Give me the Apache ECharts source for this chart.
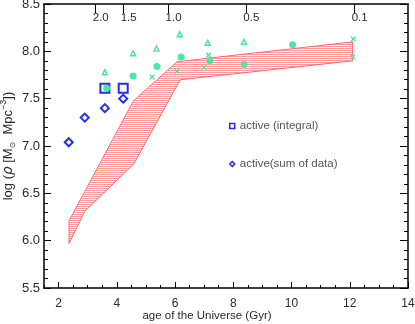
<!DOCTYPE html>
<html>
<head>
<meta charset="utf-8">
<script src="https://cdn.jsdelivr.net/npm/echarts@6/dist/echarts.min.js"></script>
<style>
html, body { margin: 0; padding: 0; background: #fff; }
#chart { width: 415px; height: 324px; }
</style>
</head>
<body>
<div id="chart"></div>
<script>
// age of the Universe (Gyr) vs log density
var integralPts = [[3.59, 7.61], [4.22, 7.61]];
var sumPts = [[2.35, 7.04], [2.90, 7.30], [3.59, 7.40], [4.22, 7.50]];

var greenCircles = [[3.65, 7.61], [4.56, 7.74], [5.38, 7.84], [6.21, 7.94], [7.19, 7.90], [8.37, 7.86], [10.04, 8.07]];
var greenTriangles = [[3.59, 7.78], [4.56, 7.98], [5.36, 8.03], [6.16, 8.18], [7.12, 8.09], [8.37, 8.10]];
var greenCrosses = [[5.21, 7.73], [6.07, 7.79], [7.00, 7.83], [7.15, 7.96], [12.12, 8.13], [12.10, 7.94]];

// hatched band: upper edge left->right, lower edge left->right
var bandUpper = [[2.36, 6.21], [4.58, 7.48], [6.07, 7.89], [12.10, 8.10]];
var bandLower = [[2.36, 5.97], [2.90, 6.31], [4.58, 6.81], [6.18, 7.70], [12.10, 7.90]];

// redshift on the top axis
var topTickAges = [3.26, 4.22, 5.76, 8.43, 12.15];
var topTickLabels = ['2.0', '1.5', '1.0', '0.5', '0.1'];

var bottomLabels = [2, 4, 6, 8, 10, 12, 14];

var GREEN = '#4ee6a0';
var BLUE = '#1f2ff0';
var INK = '#2b2b2b';

function hatch(){
	var c = document.createElement('canvas');
	c.width = 4;
	c.height = 2;
	var ctx = c.getContext('2d');
	ctx.fillStyle = '#ff9a9a';
	ctx.fillRect(0, 0, 4, 1);
	return c;
}

var bandPoly = bandUpper.concat(bandLower.slice().reverse());
var hatchCanvas = hatch();

var crossPath = 'path://M0,0 L2,0 L5,3 L8,0 L10,0 L10,2 L7,5 L10,8 L10,10 L8,10 L5,7 L2,10 L0,10 L0,8 L3,5 L0,2 Z';

var myChart = echarts.init(document.getElementById('chart'), null, {renderer: 'canvas'});

var option = {
	animation: false,
	backgroundColor: '#fff',
	grid: {
		left: 44,
		right: 7,
		top: 4,
		bottom: 36,
		containLabel: false,
		outerBoundsMode: 'none'
	},
	legend: {
		orient: 'vertical',
		left: 229,
		top: 119,
		padding: 0,
		itemWidth: 5,
		itemHeight: 5,
		itemGap: 24,
		textStyle: {
			fontFamily: 'Liberation Sans',
			fontSize: 11.5,
			color: '#555',
			lineHeight: 14
		},
		data: [
			{name: 'active (integral)', icon: 'rect', itemStyle: {color: '#fff', borderColor: BLUE, borderWidth: 1.5}},
			{name: 'active(sum of data)', icon: 'diamond', itemStyle: {color: '#fff', borderColor: BLUE, borderWidth: 1.5}}
		]
	},
	xAxis: [
		{
			type: 'value',
			position: 'bottom',
			min: 1.5,
			max: 14,
			interval: 0.5,
			name: 'age of the Universe (Gyr)',
			nameLocation: 'middle',
			nameGap: 22,
			nameMoveOverlap: false,
			nameTextStyle: {
				fontFamily: 'Liberation Sans',
				fontSize: 11.5,
				color: INK,
				padding: [0, 38, 0, 0]
			},
			axisLine: {lineStyle: {color: '#000', width: 1.5}},
			axisTick: {inside: true, length: 3, lineStyle: {color: '#000'}},
			axisLabel: {
				customValues: bottomLabels,
				fontFamily: 'Liberation Sans',
				fontSize: 12,
				color: INK,
				margin: 10
			},
			splitLine: {show: false}
		},
		{
			type: 'value',
			position: 'top',
			min: 1.5,
			max: 14,
			axisLine: {lineStyle: {color: '#000', width: 1.5}},
			axisTick: {customValues: topTickAges, inside: true, length: 9, lineStyle: {color: '#000'}},
			axisLabel: {
				customValues: topTickAges,
				inside: true,
				margin: 8,
				fontFamily: 'Liberation Sans',
				fontSize: 11.5,
				color: INK,
				padding: [0, 0, 0, 11],
				formatter: function(v){
					for (var i = 0; i < topTickAges.length; i++) {
						if (Math.abs(topTickAges[i] - v) < 1e-6) return topTickLabels[i];
					}
					return '';
				}
			},
			splitLine: {show: false}
		},
		{
			// longer ticks at the labelled ages
			type: 'value',
			position: 'bottom',
			min: 1.5,
			max: 14,
			axisLine: {show: false},
			axisTick: {customValues: bottomLabels, inside: true, length: 6, lineStyle: {color: '#000'}},
			axisLabel: {show: false},
			splitLine: {show: false}
		}
	],
	yAxis: [
		{
			type: 'value',
			position: 'left',
			min: 5.5,
			max: 8.5,
			interval: 0.5,
			name: '{a|log (}{g|ρ}{a| [M}{s|⊙}{a|  Mpc}{p|−3}{a|])}',
			nameLocation: 'middle',
			nameGap: 27,
			nameMoveOverlap: false,
			nameTextStyle: {
				rich: {
					a: {fontFamily: 'Liberation Sans', fontSize: 13, color: INK, lineHeight: 18, verticalAlign: 'middle'},
					g: {fontFamily: 'DejaVu Sans', fontSize: 13.5, fontStyle: 'italic', color: INK, lineHeight: 18, verticalAlign: 'middle'},
					s: {fontFamily: 'DejaVu Sans', fontSize: 8, color: INK, lineHeight: 18, verticalAlign: 'bottom'},
					p: {fontFamily: 'Liberation Sans', fontSize: 9, color: INK, lineHeight: 18, verticalAlign: 'top'}
				}
			},
			axisLine: {lineStyle: {color: '#000', width: 1.5}},
			axisTick: {inside: true, length: 7, lineStyle: {color: '#000'}},
			minorTick: {show: true, splitNumber: 5, length: 4, lineStyle: {color: '#000'}},
			axisLabel: {
				fontFamily: 'Liberation Sans',
				fontSize: 13,
				color: INK,
				margin: 4,
				formatter: function(v){ return v.toFixed(1); }
			},
			splitLine: {show: false}
		},
		{
			type: 'value',
			position: 'right',
			min: 5.5,
			max: 8.5,
			interval: 0.5,
			axisLine: {lineStyle: {color: '#000', width: 1.5}},
			axisTick: {inside: true, length: 8, lineStyle: {color: '#000'}},
			minorTick: {show: true, splitNumber: 5, length: 4, lineStyle: {color: '#000'}},
			axisLabel: {show: false},
			splitLine: {show: false}
		}
	],
	series: [
		{
			name: 'band',
			type: 'custom',
			xAxisIndex: 0,
			yAxisIndex: 0,
			z: 1,
			data: bandPoly,
			encode: {x: 0, y: 1},
			renderItem: function(params, api){
				if (params.dataIndex !== 0) return;
				var pts = bandPoly.map(function(p){ return api.coord(p); });
				return {
					type: 'polygon',
					shape: {points: pts},
					style: {
						fill: {image: hatchCanvas, repeat: 'repeat'},
						stroke: '#f46a6a',
						lineWidth: 1
					}
				};
			}
		},
		{
			name: 'active (integral)',
			type: 'scatter',
			symbol: 'rect',
			symbolSize: 9,
			z: 3,
			itemStyle: {color: 'rgba(255,255,255,0)', borderColor: BLUE, borderWidth: 2, opacity: 1},
			data: integralPts
		},
		{
			name: 'active(sum of data)',
			type: 'scatter',
			symbol: 'diamond',
			symbolSize: 8,
			z: 3,
			itemStyle: {color: 'rgba(255,255,255,0)', borderColor: BLUE, borderWidth: 2, opacity: 1},
			data: sumPts
		},
		{
			name: 'circles',
			type: 'scatter',
			symbol: 'circle',
			symbolSize: 7,
			z: 4,
			itemStyle: {color: GREEN, opacity: 1},
			data: greenCircles
		},
		{
			name: 'triangles',
			type: 'scatter',
			symbol: 'triangle',
			symbolSize: 5,
			z: 4,
			itemStyle: {color: '#fff', borderColor: GREEN, borderWidth: 1.5, opacity: 1},
			data: greenTriangles
		},
		{
			name: 'crosses',
			type: 'scatter',
			symbol: crossPath,
			symbolSize: 5,
			z: 4,
			itemStyle: {color: GREEN, opacity: 1},
			data: greenCrosses
		}
	]
};

myChart.setOption(option);
</script>
</body>
</html>
